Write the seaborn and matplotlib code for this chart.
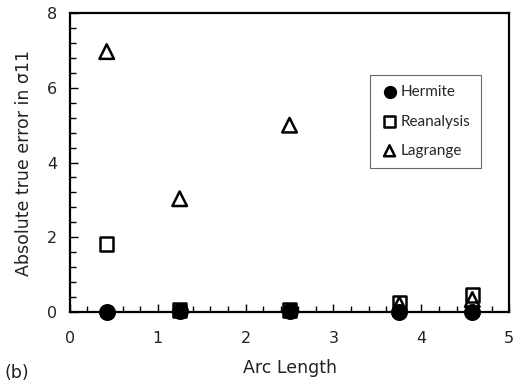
import matplotlib
matplotlib.use("Agg")
import matplotlib.pyplot as plt
from matplotlib.ticker import MultipleLocator
import seaborn as sns
import pandas as pd

arc_length = [0.42, 1.25, 2.5, 3.75, 4.58]
hermite = [0.0, 0.02, 0.02, 0.0, 0.0]
reanalysis = [1.82, 0.05, 0.05, 0.25, 0.45]
lagrange = [6.97, 3.03, 5.0, 0.2, 0.33]

sns.set_theme(style="white")
plt.rcParams["font.family"] = ["DejaVu Sans"]

df = pd.DataFrame({"arc": arc_length, "Hermite": hermite,
                   "Reanalysis": reanalysis, "Lagrange": lagrange})

fig = plt.figure(figsize=(5.17, 3.86), dpi=100)
ax = fig.add_axes([0.135, 0.192, 0.85, 0.774])

sns.scatterplot(data=df, x="arc", y="Hermite", ax=ax, marker="o", s=115,
                color="black", edgecolor="black", linewidth=1.5,
                label="Hermite", zorder=4, clip_on=False)
sns.scatterplot(data=df, x="arc", y="Reanalysis", ax=ax, marker="s", s=95,
                facecolor="none", edgecolor="black", linewidth=1.8,
                label="Reanalysis", zorder=3, clip_on=False)
sns.scatterplot(data=df, x="arc", y="Lagrange", ax=ax, marker="^", s=110,
                facecolor="none", edgecolor="black", linewidth=1.8,
                label="Lagrange", zorder=3, clip_on=False)

ax.set_xlim(0, 5)
ax.set_ylim(0, 8)
ax.xaxis.set_major_locator(MultipleLocator(1))
ax.xaxis.set_minor_locator(MultipleLocator(0.2))
ax.yaxis.set_major_locator(MultipleLocator(2))
ax.yaxis.set_minor_locator(MultipleLocator(0.4))
ax.tick_params(which="both", direction="in", bottom=True, left=True,
               top=False, right=False, color="black", width=1)
ax.tick_params(which="major", length=6, labelsize=11.5, labelcolor="#222222")
ax.tick_params(axis="x", which="major", pad=14)
ax.tick_params(axis="y", which="major", pad=9)
ax.tick_params(which="minor", length=4)
for sp in ax.spines.values():
    sp.set_color("black")
    sp.set_linewidth(1.6)

ax.set_xlabel("Arc Length", fontsize=12.5, color="#222222", labelpad=9)
ax.set_ylabel("Absolute true error in σ11", fontsize=12.5, color="#222222", labelpad=10)

leg = ax.legend(loc="upper left", bbox_to_anchor=(0.665, 0.82),
                frameon=True, fancybox=False, edgecolor="#444444",
                prop={"family": "Lato", "size": 11}, handletextpad=0.15,
                borderpad=0.7, labelspacing=1.0, handlelength=1.2,
                markerscale=0.75)
leg.get_frame().set_linewidth(0.8)

fig.text(0.008, 0.022, "(b)", fontsize=12.5, color="#222222")

fig.savefig("out.png", dpi=100)
